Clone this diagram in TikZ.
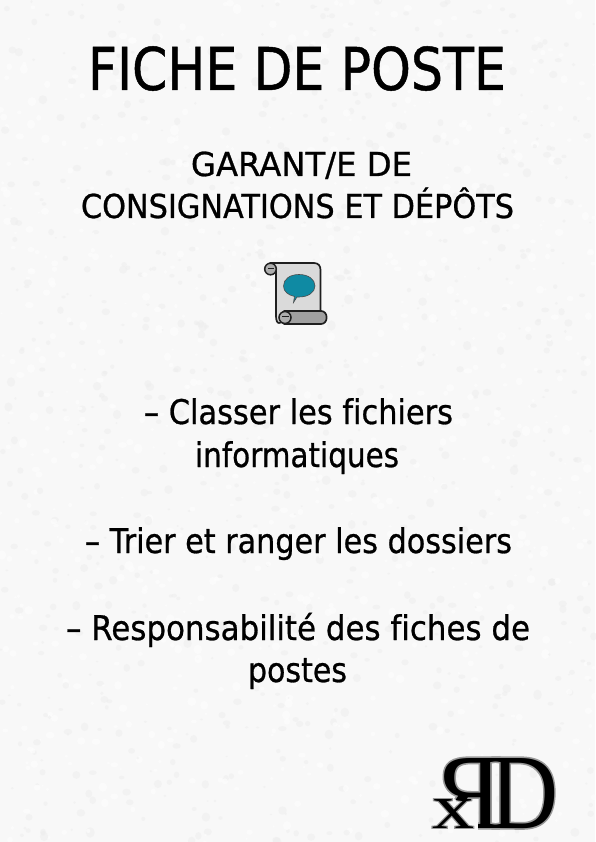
\documentclass[tikz,border=0pt]{standalone}
\usepackage{fontspec}
\setmainfont[FakeBold=0.8,Ligatures=NoCommon]{DejaVu Sans}
\newfontfamily\serifface{Liberation Serif}
\newfontfamily\seriffat[FakeBold=3]{Liberation Serif}
\usetikzlibrary{calc}
\tikzset{
  txt/.style={anchor=base west,inner sep=0pt,outer sep=0pt,text=black},
  scrollline/.style={draw=black!88,line width=1.7pt,line join=round},
  logotxt/.style={inner sep=0pt,outer sep=0pt,anchor=base},
}
\newcommand{\fit}[3]{\resizebox{#1pt}{\height}{\fontsize{#2pt}{#2pt}\selectfont #3}}
\definecolor{paper}{HTML}{F8F8F8}
\definecolor{mottd}{HTML}{EEEEEE}
\definecolor{mottl}{HTML}{FEFEFE}
\definecolor{bubble}{HTML}{0F8AA3}
\definecolor{sheet}{HTML}{DADADA}
\definecolor{roll}{HTML}{A0A0A0}
\newcommand{\logoglyphs}[2]{%
  \begin{scope}
  \clip (478,740) rectangle (515,840) (425,740) rectangle (478,799);
  \node[logotxt,text=#1,xscale=-1] (logoR#2) at (467,828) {\resizebox{70pt}{70pt}{\fontsize{100}{100}\selectfont\ifnum#2=0 \seriffat\else\serifface\fi R}};
  \end{scope}
  \node[logotxt,text=#1] (logoD#2) at (524,828) {\resizebox{68pt}{70pt}{\fontsize{100}{100}\selectfont\ifnum#2=0 \seriffat\else\serifface\fi D}};
  \node[logotxt,text=#1] (logoX#2) at (453,828) {\resizebox{42pt}{29pt}{\fontsize{60}{60}\selectfont\ifnum#2=0 \seriffat\else\serifface\fi x}};
}
\begin{document}
\begin{tikzpicture}[x=1pt,y=-1pt]
\useasboundingbox (0,0) rectangle (595,842);
\fill[paper] (0,0) rectangle (595,842);
\pgfmathsetseed{7}
\foreach \i in {1,...,1800}{
  \pgfmathsetmacro{\px}{rnd*595}
  \pgfmathsetmacro{\py}{rnd*842}
  \pgfmathsetmacro{\pr}{1+rnd*3.5}
  \pgfmathsetmacro{\pc}{ifthenelse(rnd<0.5,"mottd","mottl")}
  \fill[\pc,opacity=.6] (\px,\py) ellipse ({\pr} and {\pr*(0.6+rnd*0.6)});
}
% title
\node[txt] (title) at (88,90) {\fit{418}{59}{FICHE DE POSTE}};
\node[txt] (sub1) at (191,176) {\fit{221}{33}{GARANT/E DE}};
\node[txt] (sub2) at (81,218) {\fit{433}{33}{CONSIGNATIONS ET DÉPÔTS}};
% body
\node[txt] (b1) at (144,424) {\fit{309}{34}{– Classer les fichiers}};
\node[txt] (b2) at (195,467) {\fit{204}{34}{informatiques}};
\node[txt] (b3) at (85,553) {\fit{427}{34}{– Trier et ranger les dossiers}};
\node[txt] (b4) at (66,640) {\fit{464}{34}{– Responsabilité des fiches de}};
\node[txt] (b5) at (248,682) {\fit{99}{34}{postes}};
% scroll
\draw[scrollline,fill=sheet] (270,263) -- (314,263) .. controls (318.5,263) and (320.5,266) .. (320.5,270) -- (320.5,312) -- (279,323) .. controls (277,323) and (276,320) .. (276,316) -- (276,272) .. controls (276,268) and (274,267) .. (270,267) -- cycle;
\draw[scrollline,fill=roll] (284,311) -- (321,311) .. controls (328.5,311) and (328.5,324) .. (321,324) -- (284,324) -- cycle;
\draw[line width=1.5pt,black!88,fill=roll!85] (270.5,269) circle (5.8);
\draw[line width=1.5pt,black!88,fill=roll!85] (285,317.5) circle (6);
\draw[line width=1.6pt,black!88] (268,268.5) -- (274,268.5);
\draw[line width=1.6pt,black!88] (282,316.5) -- (289,316.5);
\fill[bubble,draw=black!70,line width=.6pt] (299,274.5) .. controls (308,274.5) and (315,279) .. (315,286) .. controls (315,292.5) and (308,297) .. (299,297) .. controls (298,297) and (297.5,297) .. (297,297) -- (293.5,302.5) -- (294.5,296.5) .. controls (288,295) and (283.5,291.5) .. (283.5,286) .. controls (283.5,279) and (290,274.5) .. (299,274.5) -- cycle;
% logo
\logoglyphs{black!40}{0}
\logoglyphs{black}{1}
\end{tikzpicture}
\end{document}
